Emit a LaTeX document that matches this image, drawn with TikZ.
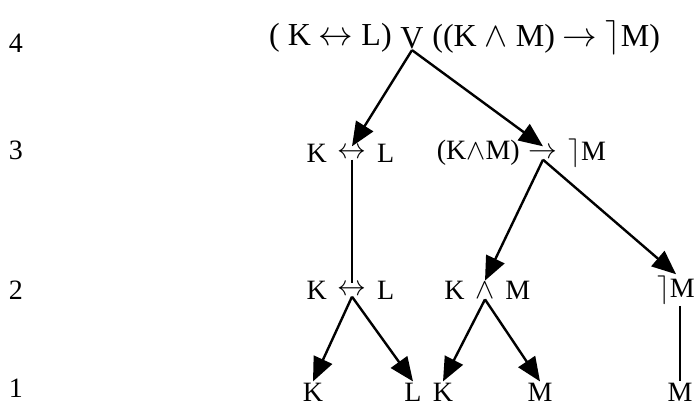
\documentclass[tikz,border=0pt]{standalone}
\usepackage{fontspec}
\setmainfont{Liberation Serif}
\usetikzlibrary{arrows.meta,positioning}
\tikzset{
  fml/.style={font=\fontsize{14}{16}\selectfont, inner sep=0.5pt},
  topfml/.style={font=\fontsize{16}{18}\selectfont, inner sep=0.5pt},
  lvl/.style={font=\fontsize{14}{16}\selectfont},
  edge/.style={line width=1.2pt, -{Triangle[length=12pt,width=10pt]}},
  bar/.style={line width=1.2pt}
}
\begin{document}
\begin{tikzpicture}[x=0.5pt,y=-0.5pt]
  \useasboundingbox (0,0) rectangle (694,411);
  %% level numbers
  \node[lvl] (n4) at (16,43) {4};
  \node[lvl] (n3) at (16,150) {3};
  \node[lvl] (n2) at (16,290) {2};
  \node[lvl] (n1) at (16,388) {1};
  %% level 4
  \node[topfml] (or4) at (412,38) {V};
  \node[topfml, left=3pt of or4] (or4l) {( K $\leftrightarrow$ L)};
  \node[topfml, right=3pt of or4] (or4r) {((K $\wedge$ M) $\rightarrow$ $\rceil$M)};
  %% level 3
  \node[fml] (iff3) at (352,153) {$\leftrightarrow$};
  \node[fml, left=4pt of iff3] (iff3l) {K};
  \node[fml, right=4pt of iff3] (iff3r) {L};
  \node[fml] (imp3) at (543,153) {$\rightarrow$};
  \node[fml, left=3pt of imp3] (imp3l) {(K$\wedge$M)};
  \node[fml, right=4pt of imp3] (imp3r) {$\rceil$M};
  %% level 2
  \node[fml] (iff2) at (352,290) {$\leftrightarrow$};
  \node[fml, left=4pt of iff2] (iff2l) {K};
  \node[fml, right=4pt of iff2] (iff2r) {L};
  \node[fml] (and2) at (485,290) {$\wedge$};
  \node[fml, left=4pt of and2] (and2l) {K};
  \node[fml, right=4pt of and2] (and2r) {M};
  \node[fml] (neg2) at (676,290) {$\rceil$M};
  %% level 1
  \node[fml] (k1) at (313,392) {K};
  \node[fml] (l1) at (413,392) {L};
  \node[fml] (k1b) at (443,392) {K};
  \node[fml] (m1) at (540,392) {M};
  \node[fml] (m1b) at (680,392) {M};
  %% connectors
  \draw[edge] (or4.south) -- (iff3.north);
  \draw[edge] (or4.south) -- (imp3.north);
  \draw[bar] (iff3.south) -- (iff2.north);
  \draw[edge] (imp3.south) -- (and2.north);
  \draw[edge] (imp3.south) -- (neg2.north);
  \draw[edge] (iff2.south) -- (k1.north);
  \draw[edge] (iff2.south) -- (l1.north);
  \draw[edge] (and2.south) -- (k1b.north);
  \draw[edge] (and2.south) -- (m1.north);
  \draw[bar] (neg2.south -| m1b) -- (m1b.north);
\end{tikzpicture}
\end{document}
